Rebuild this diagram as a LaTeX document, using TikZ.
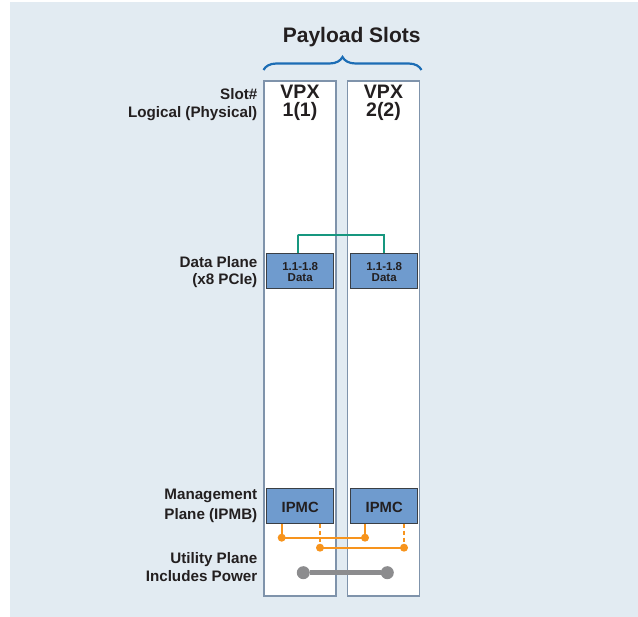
\documentclass[tikz,border=0pt]{standalone}
\usepackage{fontspec}
\setmainfont{Liberation Sans}
\usetikzlibrary{decorations.pathreplacing}
\definecolor{bgc}{HTML}{E2EBF2}
\definecolor{slotborder}{HTML}{7F93AB}
\definecolor{boxfill}{HTML}{6F9BCE}
\definecolor{boxborder}{HTML}{3A3F45}
\definecolor{greenc}{HTML}{17977F}
\definecolor{orangec}{HTML}{F7941D}
\definecolor{grayc}{HTML}{8C8C8E}
\definecolor{bracec}{HTML}{1C6DB5}
\definecolor{txt}{HTML}{231F20}
\begin{document}
\begin{tikzpicture}[x=1pt,y=-1pt,
  lbl/.style={anchor=base east,inner sep=0,font=\fontsize{15.2}{16}\selectfont\bfseries,text=txt},
  slotbox/.style={draw=slotborder,line width=1.8pt,fill=white,minimum width=72pt,minimum height=515pt,inner sep=0},
  planebox/.style={draw=boxborder,line width=0.8pt,fill=boxfill,minimum width=67pt,minimum height=35pt,inner sep=0},
  vpx/.style={anchor=base,inner sep=0,font=\fontsize{19.5}{20}\selectfont\bfseries,text=txt},
  small/.style={anchor=base,inner sep=0,align=center,font=\fontsize{11.5}{10.7}\selectfont\bfseries,text=txt},
  ipmc/.style={anchor=base,inner sep=0,font=\fontsize{14.8}{15}\selectfont\bfseries,text=txt},
  odot/.style={circle,fill=orangec,inner sep=0,minimum size=8pt},
  gdot/.style={circle,fill=grayc,inner sep=0,minimum size=13pt},
  oline/.style={draw=orangec,line width=1.8pt},
  odash/.style={draw=orangec,line width=1.8pt,dash pattern=on 4pt off 3pt}
]
\useasboundingbox (0,0) rectangle (638,617);
\fill[bgc] (10,2) rectangle (638,617);

% title and brace
\node[anchor=base,inner sep=0,font=\fontsize{21}{22}\selectfont\bfseries,text=txt] (title) at (351.7,42.7) {Payload Slots};
\draw[bracec,line width=2.2pt,decorate,decoration={brace,amplitude=13pt}] (263.5,70) -- (421.5,70);

% slots
\node[slotbox] (s1) at (300,338.5) {};
\node[slotbox] (s2) at (383.5,338.5) {};

\node[vpx] (v1a) at (300,98.5) {VPX};
\node[vpx] (v1b) at (300,117) {1(1)};
\node[vpx] (v2a) at (383.5,98.5) {VPX};
\node[vpx] (v2b) at (383.5,117) {2(2)};

% left labels
\node[lbl] (l1) at (257.5,100) {Slot\#};
\node[lbl] (l2) at (257.5,117.3) {Logical (Physical)};
\node[lbl] (l3) at (257.5,267.3) {Data Plane};
\node[lbl] (l4) at (257.5,284.5) {(x8 PCIe)};
\node[lbl] (l5) at (257.5,499.3) {Management};
\node[lbl] (l6) at (257.5,519.3) {Plane (IPMB)};
\node[lbl] (l7) at (257.5,563.3) {Utility Plane};
\node[lbl] (l8) at (257.5,581.7) {Includes Power};

% data plane
\node[planebox] (d1) at (300.2,271.2) {};
\node[planebox] (d2) at (384.2,271.2) {};
\node[small] (d1t) at (300.2,281.7) {1.1-1.8\\Data};
\node[small] (d2t) at (384.2,281.7) {1.1-1.8\\Data};
\draw[greenc,line width=1.8pt] ([xshift=-2pt]d1.north) |- (298,234.7) -| (d2.north);

% management plane
\node[planebox] (i1) at (300.2,505.8) {};
\node[planebox] (i2) at (384.2,505.8) {};
\node[ipmc] (i1t) at (300.2,512.3) {IPMC};
\node[ipmc] (i2t) at (384.2,512.3) {IPMC};

\coordinate (o1) at (281.7,537.7);
\coordinate (o2) at (365,537.7);
\coordinate (o3) at (320,547.7);
\coordinate (o4) at (404,547.7);
\draw[oline] (i1.south -| o1) -- (o1) -- (o2);
\draw[oline] (i2.south -| o2) -- (o2);
\draw[odash] (i1.south -| o3) -- (o3);
\draw[odash] (i2.south -| o4) -- (o4);
\draw[oline] (o3) -- (o4);
\node[odot] (od1) at (o1) {};
\node[odot] (od2) at (o2) {};
\node[odot] (od3) at (o3) {};
\node[odot] (od4) at (o4) {};

% utility plane
\node[gdot] (g1) at (303.3,572.7) {};
\node[gdot] (g2) at (387.3,572.7) {};
\draw[grayc,line width=5pt] (g1) -- (g2);
\end{tikzpicture}
\end{document}
